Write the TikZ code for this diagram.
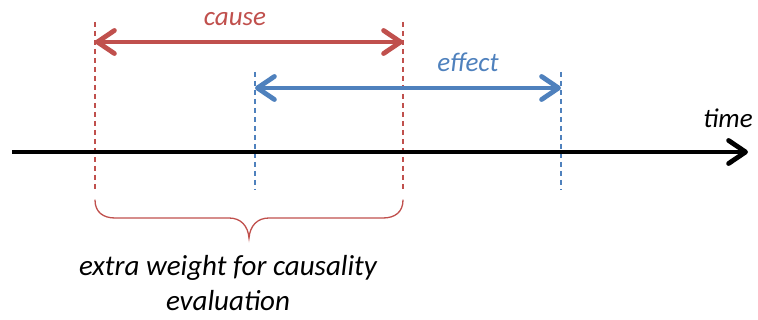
\documentclass[tikz,border=0pt]{standalone}
\usepackage{fontspec}
\setmainfont{Carlito}
\usetikzlibrary{arrows.meta}
\definecolor{causered}{HTML}{C0504D}
\definecolor{effectblue}{HTML}{4F81BD}
\tikzset{
  barb/.tip={Straight Barb[length=17pt,width=23pt,line cap=round,line join=round]},
  span/.style={line width=4.8pt, barb-barb},
  axis/.style={line width=4.8pt, -barb},
  guide/.style={line width=1.2pt, dash pattern=on 5pt off 4pt},
  lbl/.style={font=\itshape\fontsize{27}{33}\selectfont, inner sep=0pt, align=center},
  note/.style={font=\itshape\fontsize{29}{35}\selectfont, inner sep=0pt, align=center},
  bracecurve/.style={line width=1.3pt, line cap=round}
}
\begin{document}
\begin{tikzpicture}[x=1pt,y=-1pt]
\useasboundingbox (0,0) rectangle (758,320);

% interval boundaries
\coordinate (c1t) at (95,22);   \coordinate (c1b) at (95,190);
\coordinate (c2t) at (403,22);  \coordinate (c2b) at (403,190);
\coordinate (e1t) at (255,72);  \coordinate (e1b) at (255,190);
\coordinate (e2t) at (561,72);  \coordinate (e2b) at (561,190);

\draw[guide, causered] (c1t) -- (c1b);
\draw[guide, causered] (c2t) -- (c2b);
\draw[guide, effectblue] (e1t) -- (e1b);
\draw[guide, effectblue] (e2t) -- (e2b);

% time axis
\coordinate (t0) at (12,152);
\coordinate (t1) at (748,152);
\draw[axis] (t0) -- (t1);
\node[lbl, anchor=base] (time) at (728,128) {time};

% cause interval
\coordinate (ca) at (95,42);
\coordinate (cb) at (403,42);
\draw[span, causered] (ca) -- (cb);
\node[lbl, text=causered, anchor=base] (cause) at (235,26) {cause};

% effect interval
\coordinate (ea) at (255,88);
\coordinate (eb) at (561,88);
\draw[span, effectblue] (ea) -- (eb);
\node[lbl, text=effectblue, anchor=base] (effect) at (468,72) {effect};

% brace under the cause interval
\draw[bracecurve, causered]
  (95,200) .. controls (95,212) and (103,218) .. (115,218)
  -- (229,218) .. controls (241,218) and (248,226) .. (249,238)
  .. controls (250,226) and (257,218) .. (269,218)
  -- (383,218) .. controls (395,218) and (403,212) .. (403,200);
\coordinate (tip) at (249,238);

\node[note, anchor=north] (weight) at (228,255) {extra weight for causality\\evaluation};
\end{tikzpicture}
\end{document}
